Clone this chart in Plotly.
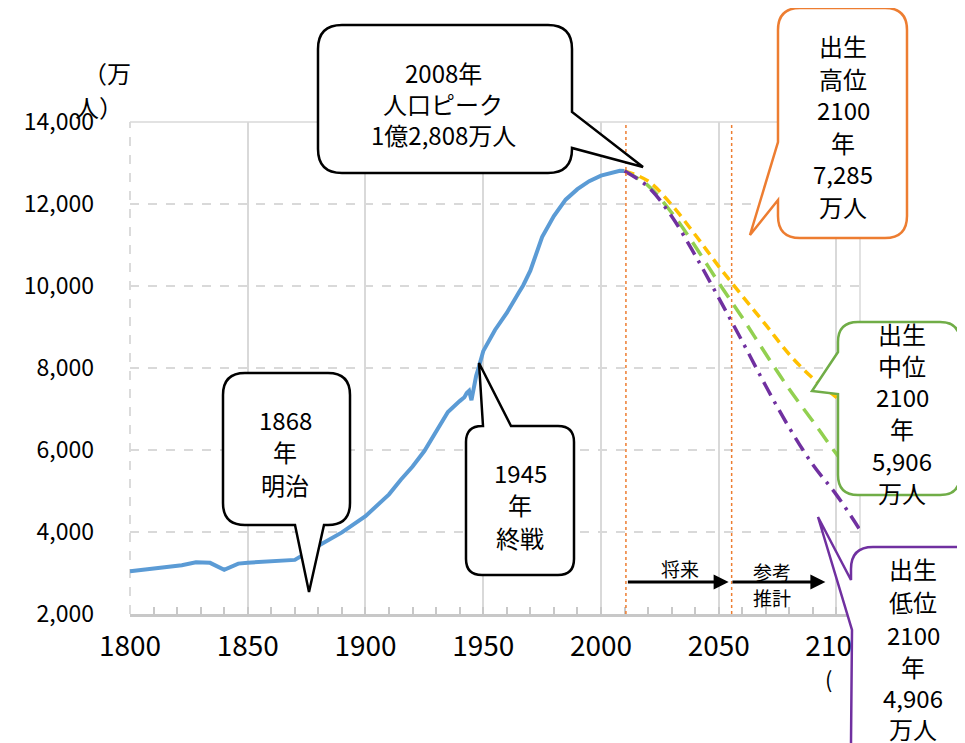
import plotly.graph_objects as go

# ---------------- data (万人) ----------------
hist_years = [1800, 1810, 1822, 1828, 1834, 1840, 1846, 1850, 1860, 1870, 1880, 1890,
              1900, 1905, 1910, 1915, 1920, 1925, 1930, 1935, 1940, 1942, 1943, 1944,
              1945, 1946, 1947, 1948, 1950, 1955, 1960, 1965, 1967, 1970, 1975, 1980,
              1985, 1990, 1995, 2000, 2005, 2008, 2010]
hist_pop = [3040, 3100, 3191, 3263, 3248, 3080, 3229, 3250, 3280, 3320, 3665, 3990,
            4385, 4662, 4918, 5275, 5596, 5974, 6445, 6925, 7193, 7288, 7388, 7443,
            7215, 7575, 7810, 8000, 8411, 8928, 9342, 9828, 10020, 10372, 11194, 11706,
            12105, 12361, 12557, 12693, 12777, 12808, 12806]

proj_years = [2010, 2020, 2030, 2040, 2050, 2060, 2070, 2080, 2090, 2100, 2110]
proj_high = [12806, 12560, 11980, 11250, 10480, 9760, 9050, 8330, 7750, 7285, 6850]
proj_mid = [12806, 12450, 11790, 10970, 10080, 9230, 8340, 7480, 6700, 5906, 5200]
proj_low = [12806, 12420, 11700, 10750, 9710, 8650, 7560, 6540, 5640, 4906, 4050]

x_ticks = [1800, 1850, 1900, 1950, 2000, 2050, 2100]
y_ticks = [2000, 4000, 6000, 8000, 10000, 12000, 14000]
y_ticktext = ["2,000", "4,000", "6,000", "8,000", "10,000", "12,000", "14,000"]

future_lines = [2010.6, 2055.5]
arrow_y = 2780

FONT = "Noto Sans CJK JP"
OFF = 8  # page body margin
W, H = 965 - OFF, 743 - OFF
L, T = 130 - OFF, 122 - OFF
PW, PH = 730, 492
R, B = W - L - PW, H - T - PH


def px(x):  # page pixel -> paper
    return (x - OFF - L) / PW


def py(y):
    return (T + PH - (y - OFF)) / PH


def P(x, y):
    return f"{px(x):.5f},{py(y):.5f}"


def callout_path(x0, y0, x1, y1, r, tails):
    d = f"M{P(x0 + r, y0)}"
    for p in tails.get("top", []):
        d += f" L{P(*p)}"
    d += f" L{P(x1 - r, y0)} Q{P(x1, y0)} {P(x1, y0 + r)}"
    for p in tails.get("right", []):
        d += f" L{P(*p)}"
    d += f" L{P(x1, y1 - r)} Q{P(x1, y1)} {P(x1 - r, y1)}"
    for p in tails.get("bottom", []):
        d += f" L{P(*p)}"
    d += f" L{P(x0 + r, y1)} Q{P(x0, y1)} {P(x0, y1 - r)}"
    for p in tails.get("left", []):
        d += f" L{P(*p)}"
    d += f" L{P(x0, y0 + r)} Q{P(x0, y0)} {P(x0 + r, y0)} Z"
    return d


fig = go.Figure()

fig.add_trace(go.Scatter(x=hist_years, y=hist_pop, mode="lines",
                         line=dict(color="#5B9BD5", width=4), showlegend=False))
fig.add_trace(go.Scatter(x=proj_years, y=proj_high, mode="lines",
                         line=dict(color="#FFC000", width=3.5, dash="10px,6px", shape="spline"),
                         showlegend=False))
fig.add_trace(go.Scatter(x=proj_years, y=proj_mid, mode="lines",
                         line=dict(color="#92D050", width=3.5, dash="16px,9px", shape="spline"),
                         showlegend=False))
fig.add_trace(go.Scatter(x=proj_years, y=proj_low, mode="lines",
                         line=dict(color="#7030A0", width=3.5, dash="15px,7px,3px,7px", shape="spline"),
                         showlegend=False))

shapes = []
shapes.append(dict(type="line", xref="paper", yref="paper", x0=0, x1=0, y0=0, y1=1,
                   line=dict(color="#D0D0D0", width=1.5, dash="dash"), layer="below"))
shapes.append(dict(type="line", xref="paper", yref="paper", x0=1, x1=1, y0=0, y1=1,
                   line=dict(color="#D9D9D9", width=1.5), layer="below"))
shapes.append(dict(type="line", xref="paper", yref="paper", x0=0, x1=1, y0=1, y1=1,
                   line=dict(color="#D9D9D9", width=1.5), layer="below"))
for xv in future_lines:
    shapes.append(dict(type="line", xref="x", yref="paper", x0=xv, x1=xv, y0=0, y1=1,
                       line=dict(color="#ED7D31", width=1.5, dash="dot"), layer="above"))

callouts = [
    dict(color="black", box=(318, 25, 572, 173), r=24,
         tails={"right": [(572, 112), (643, 167), (572, 148)]},
         lines=[("2008年", 443, 72), ("人口ピーク", 443, 103), ("1億2,808万人", 443, 135)]),
    dict(color="black", box=(223, 373, 350, 525), r=22,
         tails={"bottom": [(324, 525), (309, 592), (295, 525)]},
         lines=[("1868", 285, 419), ("年", 285, 452), ("明治", 285, 484)]),
    dict(color="black", box=(466, 426, 574, 575), r=16,
         tails={"top": [(483, 426), (479, 363), (511, 426)]},
         lines=[("1945", 520, 472), ("年", 520, 504), ("終戦", 520, 537)]),
    dict(color="#ED7D31", box=(778, 8, 907, 238), r=22,
         tails={"left": [(778, 200), (750, 235), (778, 142)]},
         lines=[("出生", 843, 46), ("高位", 843, 78), ("2100", 843, 110), ("年", 843, 142),
                ("7,285", 843, 173), ("万人", 843, 206)]),
    dict(color="#70AD47", box=(838, 322, 960, 495), r=20,
         tails={"left": [(838, 394), (812, 391), (838, 352)]},
         lines=[("出生", 902, 333), ("中位", 902, 365), ("2100", 902, 396), ("年", 902, 428),
                ("5,906", 902, 460), ("万人", 902, 492)]),
    dict(color="#7030A0", box=(851, 547, 1000, 765), r=22,
         tails={"left": [(852, 630), (818, 517), (851, 580)]},
         lines=[("出生", 913, 568), ("低位", 913, 601), ("2100", 913, 634), ("年", 913, 666),
                ("4,906", 913, 697), ("万人", 913, 728)]),
]

annotations = []
for c in callouts:
    x0, y0, x1, y1 = c["box"]
    shapes.append(dict(type="path", xref="paper", yref="paper",
                       path=callout_path(x0, y0, x1, y1, c["r"], c["tails"]),
                       fillcolor="white", line=dict(color=c["color"], width=2.5), layer="above"))
    for txt, tx, ty in c["lines"]:
        annotations.append(dict(text=txt, x=px(tx), y=py(ty), xref="paper", yref="paper",
                                xanchor="center", yanchor="middle", showarrow=False,
                                font=dict(family=FONT, size=24, color="black")))

annotations.append(dict(text="（万", x=px(107), y=py(72), xref="paper", yref="paper",
                        xanchor="center", yanchor="middle", showarrow=False,
                        font=dict(family=FONT, size=24, color="black")))
annotations.append(dict(text="人）", x=px(99), y=py(107), xref="paper", yref="paper",
                        xanchor="center", yanchor="middle", showarrow=False,
                        font=dict(family=FONT, size=24, color="black")))
annotations.append(dict(text="(", x=px(828), y=py(678), xref="paper", yref="paper",
                        xanchor="center", yanchor="middle", showarrow=False,
                        font=dict(family=FONT, size=22, color="black")))

annotations.append(dict(x=2054.2, y=arrow_y, ax=2010.8, ay=arrow_y, xref="x", yref="y",
                        axref="x", ayref="y", showarrow=True, arrowhead=2, arrowsize=1,
                        arrowwidth=3, arrowcolor="black", standoff=0, text=""))
annotations.append(dict(x=2095.3, y=arrow_y, ax=2055.2, ay=arrow_y, xref="x", yref="y",
                        axref="x", ayref="y", showarrow=True, arrowhead=2, arrowsize=1,
                        arrowwidth=3, arrowcolor="black", standoff=0, text=""))
for txt, tx, ty in [("将来", 680, 568), ("参考", 772, 571), ("推計", 772, 597)]:
    annotations.append(dict(text=txt, x=px(tx), y=py(ty), xref="paper", yref="paper",
                            xanchor="center", yanchor="middle", showarrow=False,
                            font=dict(family=FONT, size=19, color="black")))

fig.update_layout(
    width=W, height=H,
    margin=dict(l=L, r=R, t=T, b=B),
    paper_bgcolor="white", plot_bgcolor="white",
    showlegend=False,
    shapes=shapes,
    annotations=annotations,
    font=dict(family=FONT, color="black"),
    xaxis=dict(range=[1800, 2110], tickvals=x_ticks, ticktext=[str(v) for v in x_ticks],
               showgrid=True, gridcolor="#D9D9D9", gridwidth=2,
               showline=True, linecolor="#C8C8C8", linewidth=2.5,
               ticks="inside", ticklen=7, tickwidth=1.5, tickcolor="#C8C8C8",
               minor=dict(dtick=10, tick0=1800, ticks="inside", ticklen=7, tickwidth=1.5,
                          tickcolor="#C8C8C8", showgrid=False),
               tickfont=dict(family=FONT, size=28, color="black"),
               ticklabelstandoff=6, zeroline=False, fixedrange=True),
    yaxis=dict(range=[2000, 14000], tickvals=y_ticks, ticktext=y_ticktext,
               showgrid=True, gridcolor="#D9D9D9", gridwidth=2, griddash="dash",
               showline=False, ticks="", zeroline=False,
               tickfont=dict(family=FONT, size=23, color="black"),
               ticklabelstandoff=35, fixedrange=True),
)

fig.write_html("out.html")
